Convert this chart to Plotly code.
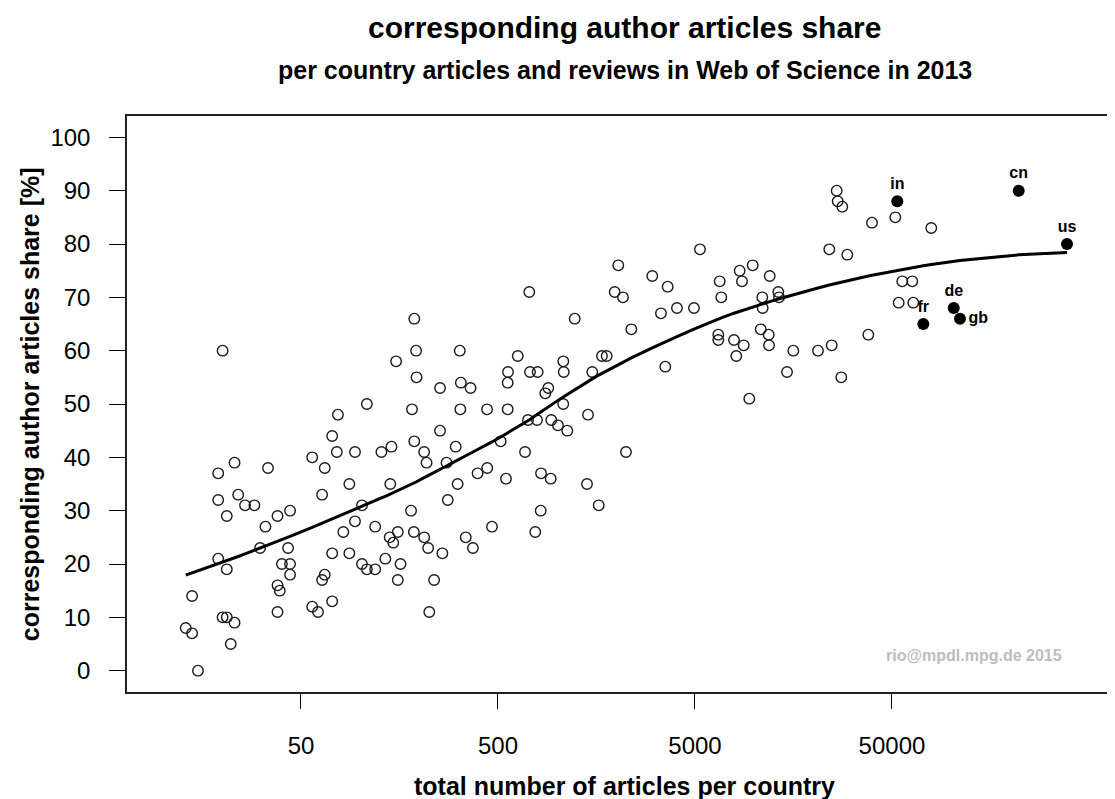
import numpy as np
import plotly.graph_objects as go

# open circles: total articles per country, corresponding-author share [%]
articles = [
    20, 152, 192, 320, 193, 254, 324, 108, 183, 322, 77, 254, 72, 76, 94, 128, 144, 188, 211, 217,
    274, 305, 23, 19, 34, 57, 66, 88, 142, 312, 19, 24, 26, 29, 21, 64, 102, 278, 181, 44,
    38, 33, 94, 119, 82, 141, 155, 147, 187, 211, 221, 261, 343, 373, 31, 43, 19, 21, 40, 44,
    44, 72, 88, 102, 108, 119, 134, 160, 155, 237, 64, 66, 14, 38, 39, 38, 57, 61, 72, 224,
    20, 21, 23, 13, 14, 22, 15,
    188,
    5300, 2040, 3035, 9815, 8430, 8660, 11975, 6673, 3634, 721, 1956, 2155, 6799, 10980, 13240, 13350,
    11030, 4051, 4941, 3360, 1226, 2375, 10780, 11840, 6565, 6565, 7889, 8836, 11880, 8102, 15780, 630,
    1686, 1781, 3533, 1073, 1078, 562, 727, 795, 1505, 14660, 560, 363, 900, 869, 9432, 440,
    560, 1072, 1432, 710, 789, 932, 1008, 1124, 516,
    686, 2232, 394, 441, 549, 827, 926, 1415, 1623, 824, 466, 773,
    26200, 26510, 27970, 39580, 51980, 79140, 24030, 29660, 56400, 63390, 54080, 64140, 37910, 21050,
    24710, 27640,
]
share = [
    60, 58, 60, 60, 55, 53, 54, 50, 49, 49, 48, 45, 44, 41, 41, 41, 42, 43, 41, 39,
    39, 42, 39, 37, 38, 40, 38, 35, 35, 35, 32, 33, 31, 31, 29, 33, 31, 32, 30, 30,
    29, 27, 28, 27, 26, 25, 26, 24, 26, 25, 23, 22, 25, 23, 23, 23, 21, 19, 20, 20,
    18, 22, 22, 20, 19, 19, 21, 20, 17, 17, 17, 18, 14, 16, 15, 11, 12, 11, 13, 11,
    10, 10, 9, 8, 7, 5, 0,
    66,
    79, 76, 74, 76, 75, 73, 74, 73, 72, 71, 71, 70, 70, 70, 71, 70,
    68, 68, 68, 67, 66, 64, 64, 63, 63, 62, 62, 61, 61, 59, 60, 59,
    59, 59, 57, 58, 56, 56, 56, 56, 56, 56, 54, 53, 53, 52, 51, 49,
    49, 50, 48, 47, 47, 47, 46, 45, 43,
    41, 41, 37, 38, 36, 37, 36, 35, 31, 30, 27, 26,
    90, 88, 87, 84, 85, 83, 79, 78, 73, 73, 69, 69, 63, 60,
    61, 55,
]

# highlighted countries (filled)
hl_codes = ["in", "cn", "us", "fr", "de", "gb"]
hl_articles = [53200, 219900, 386700, 72100, 102900, 110700]
hl_share = [88, 90, 80, 65, 68, 66]

x_ticks = [50, 500, 5000, 50000]
y_ticks = list(range(0, 101, 10))


def loess(x, y, span=0.75, degree=2):
    """local polynomial regression with tricube weights (R loess defaults)"""
    x = np.asarray(x, float)
    y = np.asarray(y, float)
    xs = np.unique(x)
    n = len(x)
    q = int(np.floor(n * span))
    out = np.zeros(len(xs))
    for i, x0 in enumerate(xs):
        d = np.abs(x - x0)
        h = np.sort(d)[q - 1]
        u = np.clip(d / h, 0, 1)
        w = (1 - u ** 3) ** 3
        X = np.vander(x - x0, degree + 1, increasing=True)
        W = np.sqrt(w)
        beta, *_ = np.linalg.lstsq(X * W[:, None], y * W, rcond=None)
        out[i] = beta[0]
    return xs, out


all_x = np.log10(np.array(articles + hl_articles, float))
all_y = np.array(share + hl_share, float)
fx, fy = loess(all_x, all_y)

FONT = "Liberation Sans, Arial, Helvetica, sans-serif"

fig = go.Figure()
fig.add_trace(go.Scatter(
    x=articles, y=share, mode="markers",
    marker=dict(symbol="circle-open", size=10.5, color="#1a1a1a", line=dict(width=1.4, color="#1a1a1a")),
    hoverinfo="x+y", showlegend=False,
))
fig.add_trace(go.Scatter(
    x=10 ** fx, y=fy, mode="lines",
    line=dict(color="black", width=3), showlegend=False, hoverinfo="skip",
))
top_idx = [i for i, c in enumerate(hl_codes) if c != "gb"]
fig.add_trace(go.Scatter(
    x=[hl_articles[i] for i in top_idx], y=[hl_share[i] for i in top_idx],
    text=[hl_codes[i] for i in top_idx], mode="markers+text", textposition="top center",
    textfont=dict(family=FONT, size=16, color="black", weight="bold"),
    marker=dict(symbol="circle", size=12, color="black"), showlegend=False,
))
gi = hl_codes.index("gb")
fig.add_trace(go.Scatter(
    x=[hl_articles[gi]], y=[hl_share[gi]], text=[hl_codes[gi]],
    mode="markers+text", textposition="middle right",
    textfont=dict(family=FONT, size=16, color="black", weight="bold"),
    marker=dict(symbol="circle", size=12, color="black"), showlegend=False,
))

fig.update_layout(
    width=1107, height=791,
    margin=dict(l=119, r=0, t=108, b=107),
    paper_bgcolor="white", plot_bgcolor="white",
    font=dict(family=FONT, color="black"),
    xaxis=dict(
        type="log", range=[0.8158, 5.831],
        tickvals=x_ticks, ticktext=[str(v) for v in x_ticks],
        ticks="outside", ticklen=15, tickwidth=1.3, tickcolor="black",
        ticklabelstandoff=16,
        tickfont=dict(size=24, family=FONT, color="black"),
        showgrid=False, zeroline=False,
        showline=True, linecolor="#222", linewidth=1.5, mirror=True,
    ),
    yaxis=dict(
        range=[-4, 104], tickvals=y_ticks,
        ticks="outside", ticklen=16, tickwidth=1.3, tickcolor="black",
        ticklabelstandoff=14,
        tickfont=dict(size=24, family=FONT, color="black"),
        showgrid=False, zeroline=False,
        showline=True, linecolor="#222", linewidth=1.5, mirror=False,
    ),
    annotations=[
        dict(text="<b>corresponding author articles share</b>", xref="paper", yref="paper",
             x=0.504, y=1.1545, xanchor="center", yanchor="middle", showarrow=False,
             font=dict(size=30, family=FONT, color="black")),
        dict(text="<b>per country articles and reviews in Web of Science in 2013</b>", xref="paper", yref="paper",
             x=0.504, y=1.0799, xanchor="center", yanchor="middle", showarrow=False,
             font=dict(size=25, family=FONT, color="black")),
        dict(text="<b>total number of articles per country</b>", xref="paper", yref="paper",
             x=0.504, y=-0.1632, xanchor="center", yanchor="middle", showarrow=False,
             font=dict(size=25, family=FONT, color="black")),
        dict(text="<b>corresponding author articles share [%]</b>", xref="paper", yref="paper",
             x=-0.098, y=0.5, xanchor="center", yanchor="middle", showarrow=False, textangle=-90,
             font=dict(size=25, family=FONT, color="black")),
        dict(text="<b>rio@mpdl.mpg.de 2015</b>", xref="paper", yref="paper",
             x=0.948, y=0.0642, xanchor="right", yanchor="middle", showarrow=False,
             font=dict(size=16, family=FONT, color="#bdbdbd")),
    ],
)

fig.write_html("out.html")
